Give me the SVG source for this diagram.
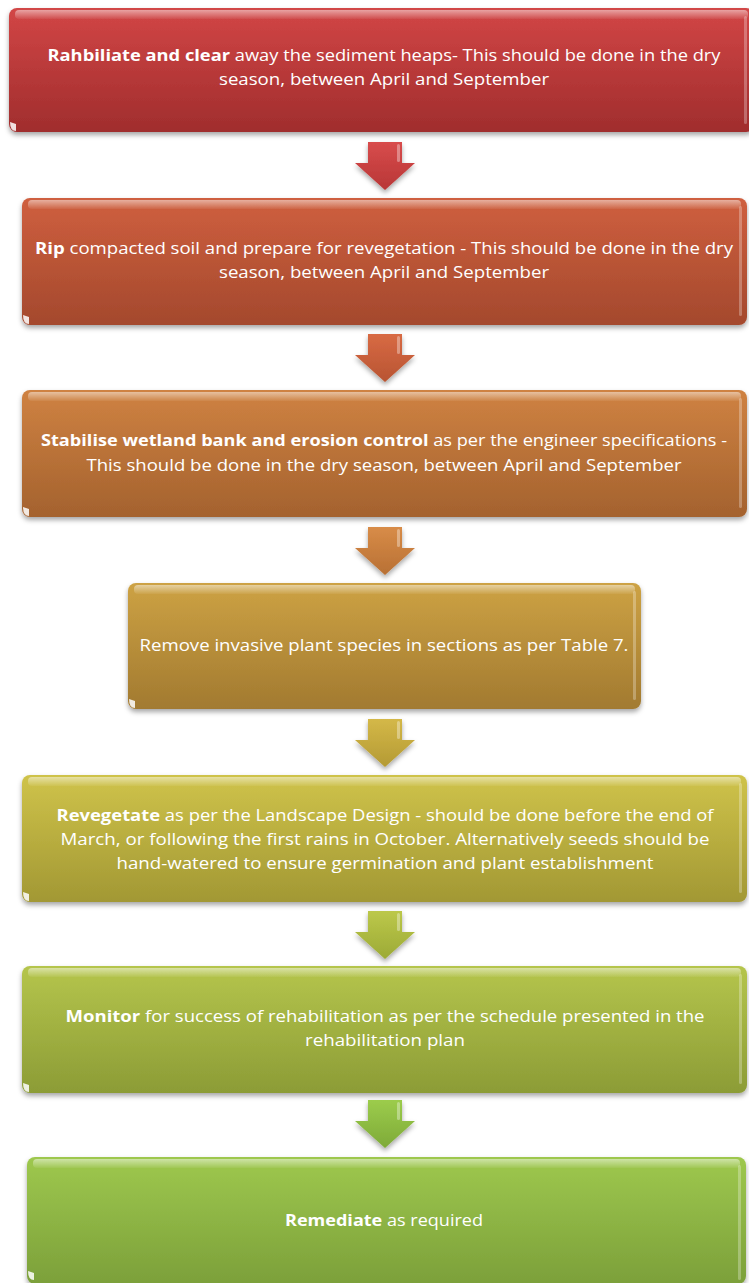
<svg xmlns="http://www.w3.org/2000/svg" width="749" height="1283" viewBox="0 0 749 1283">
<defs>
<filter id="sh" x="-5%" y="-10%" width="110%" height="130%">
<feDropShadow dx="0" dy="3" stdDeviation="2.5" flood-color="#000" flood-opacity="0.35"/>
</filter>
<linearGradient id="g1" x1="0" y1="0" x2="0" y2="1"><stop offset="0" stop-color="#D24646"/><stop offset="1" stop-color="#A02D2D"/></linearGradient>
<linearGradient id="g2" x1="0" y1="0" x2="0" y2="1"><stop offset="0" stop-color="#CF5F3F"/><stop offset="1" stop-color="#A4492D"/></linearGradient>
<linearGradient id="g3" x1="0" y1="0" x2="0" y2="1"><stop offset="0" stop-color="#CF8242"/><stop offset="1" stop-color="#A4622E"/></linearGradient>
<linearGradient id="g4" x1="0" y1="0" x2="0" y2="1"><stop offset="0" stop-color="#CDA244"/><stop offset="1" stop-color="#A27A30"/></linearGradient>
<linearGradient id="g5" x1="0" y1="0" x2="0" y2="1"><stop offset="0" stop-color="#CFC34A"/><stop offset="1" stop-color="#A29834"/></linearGradient>
<linearGradient id="g6" x1="0" y1="0" x2="0" y2="1"><stop offset="0" stop-color="#B5C54C"/><stop offset="1" stop-color="#8C9C36"/></linearGradient>
<linearGradient id="g7" x1="0" y1="0" x2="0" y2="1"><stop offset="0" stop-color="#9EC84E"/><stop offset="1" stop-color="#7CA03A"/></linearGradient>
<linearGradient id="a1" x1="0" y1="0" x2="0" y2="1"><stop offset="0" stop-color="#D84C4C"/><stop offset="1" stop-color="#B83636"/></linearGradient>
<linearGradient id="a2" x1="0" y1="0" x2="0" y2="1"><stop offset="0" stop-color="#D86A44"/><stop offset="1" stop-color="#B85432"/></linearGradient>
<linearGradient id="a3" x1="0" y1="0" x2="0" y2="1"><stop offset="0" stop-color="#D88C48"/><stop offset="1" stop-color="#B87034"/></linearGradient>
<linearGradient id="a4" x1="0" y1="0" x2="0" y2="1"><stop offset="0" stop-color="#D4B848"/><stop offset="1" stop-color="#B49A34"/></linearGradient>
<linearGradient id="a5" x1="0" y1="0" x2="0" y2="1"><stop offset="0" stop-color="#BCC84A"/><stop offset="1" stop-color="#9CAA36"/></linearGradient>
<linearGradient id="a6" x1="0" y1="0" x2="0" y2="1"><stop offset="0" stop-color="#9CCC4C"/><stop offset="1" stop-color="#7EAA38"/></linearGradient>
<linearGradient id="hlTop" x1="0" y1="0" x2="0" y2="1"><stop offset="0" stop-color="#fff" stop-opacity="0.5"/><stop offset="1" stop-color="#fff" stop-opacity="0.05"/></linearGradient>
<path id="arrow" d="M-17,0 H17 V21 H30 L0,48 L-30,21 H-17 Z"/>
</defs>
<style>
.box{filter:url(#sh);}
.hl{fill:url(#hlTop);}
.hr{fill:#fff;fill-opacity:0.28;}
.bl{fill:#fff;fill-opacity:0.85;}
text{font-family:"Open Sans","Noto Sans","Liberation Sans",sans-serif;font-size:16px;fill:#fff;text-anchor:middle;}
.b{font-weight:bold;}
.ahl{fill:#fff;fill-opacity:0.35;}
</style>

<g id="step1">
<rect class="box" x="9" y="8" width="745" height="124" rx="8" fill="url(#g1)"/>
<rect class="hl" x="15" y="10" width="733" height="9" rx="4"/>
<rect class="hr" x="744" y="16" width="3" height="108" rx="1.5"/>
<path class="bl" d="M10,122 Q10,131 16,131 L16,124 Z"/>
<text x="384" y="61" textLength="673" lengthAdjust="spacingAndGlyphs"><tspan class="b">Rahbiliate and clear</tspan> away the sediment heaps- This should be done in the dry</text>
<text x="384" y="85" textLength="330" lengthAdjust="spacingAndGlyphs">season, between April and September</text>
</g>

<g id="step2">
<rect class="box" x="22" y="198" width="725" height="127" rx="8" fill="url(#g2)"/>
<rect class="hl" x="28" y="200" width="713" height="9" rx="4"/>
<rect class="hr" x="739" y="206" width="3" height="110" rx="1.5"/>
<path class="bl" d="M23,315 Q23,324 29,324 L29,317 Z"/>
<text x="384" y="254" textLength="698" lengthAdjust="spacingAndGlyphs"><tspan class="b">Rip</tspan> compacted soil and prepare for revegetation - This should be done in the dry</text>
<text x="384" y="278" textLength="330" lengthAdjust="spacingAndGlyphs">season, between April and September</text>
</g>

<g id="step3">
<rect class="box" x="22" y="390" width="725" height="127" rx="8" fill="url(#g3)"/>
<rect class="hl" x="28" y="392" width="713" height="9" rx="4"/>
<rect class="hr" x="739" y="398" width="3" height="110" rx="1.5"/>
<path class="bl" d="M23,507 Q23,516 29,516 L29,509 Z"/>
<text x="384" y="446" textLength="686" lengthAdjust="spacingAndGlyphs"><tspan class="b">Stabilise wetland bank and erosion control</tspan> as per the engineer specifications -</text>
<text x="384" y="471" textLength="595" lengthAdjust="spacingAndGlyphs">This should be done in the dry season, between April and September</text>
</g>

<g id="step4">
<rect class="box" x="128" y="583" width="513" height="126" rx="8" fill="url(#g4)"/>
<rect class="hl" x="134" y="585" width="501" height="9" rx="4"/>
<rect class="hr" x="633" y="591" width="3" height="109" rx="1.5"/>
<path class="bl" d="M129,699 Q129,708 135,708 L135,701 Z"/>
<text x="384" y="651" textLength="489" lengthAdjust="spacingAndGlyphs">Remove invasive plant species in sections as per Table 7.</text>
</g>

<g id="step5">
<rect class="box" x="22" y="775" width="725" height="127" rx="8" fill="url(#g5)"/>
<rect class="hl" x="28" y="777" width="713" height="9" rx="4"/>
<rect class="hr" x="739" y="783" width="3" height="110" rx="1.5"/>
<path class="bl" d="M23,892 Q23,901 29,901 L29,894 Z"/>
<text x="385" y="821" textLength="657" lengthAdjust="spacingAndGlyphs"><tspan class="b">Revegetate</tspan> as per the Landscape Design - should be done before the end of</text>
<text x="385" y="845" textLength="649" lengthAdjust="spacingAndGlyphs">March, or following the first rains in October. Alternatively seeds should be</text>
<text x="385" y="869" textLength="537" lengthAdjust="spacingAndGlyphs">hand-watered to ensure germination and plant establishment</text>
</g>

<g id="step6">
<rect class="box" x="22" y="966" width="725" height="127" rx="8" fill="url(#g6)"/>
<rect class="hl" x="28" y="968" width="713" height="9" rx="4"/>
<rect class="hr" x="739" y="974" width="3" height="110" rx="1.5"/>
<path class="bl" d="M23,1083 Q23,1092 29,1092 L29,1085 Z"/>
<text x="385" y="1022" textLength="639" lengthAdjust="spacingAndGlyphs"><tspan class="b">Monitor</tspan> for success of rehabilitation as per the schedule presented in the</text>
<text x="385" y="1046" textLength="160" lengthAdjust="spacingAndGlyphs">rehabilitation plan</text>
</g>

<g id="step7">
<rect class="box" x="27" y="1157" width="719" height="127" rx="8" fill="url(#g7)"/>
<rect class="hl" x="33" y="1159" width="707" height="9" rx="4"/>
<rect class="hr" x="738" y="1165" width="3" height="115" rx="1.5"/>
<path class="bl" d="M28,1271 Q28,1280 34,1280 L34,1273 Z"/>
<text x="384" y="1226" textLength="198" lengthAdjust="spacingAndGlyphs"><tspan class="b">Remediate</tspan> as required</text>
</g>

<g id="connectors">
<g transform="translate(385,142)"><use href="#arrow" fill="url(#a1)" filter="url(#sh)"/><rect class="ahl" x="12" y="2" width="3" height="18" rx="1.5"/></g>
<g transform="translate(385,334)"><use href="#arrow" fill="url(#a2)" filter="url(#sh)"/><rect class="ahl" x="12" y="2" width="3" height="18" rx="1.5"/></g>
<g transform="translate(385,527)"><use href="#arrow" fill="url(#a3)" filter="url(#sh)"/><rect class="ahl" x="12" y="2" width="3" height="18" rx="1.5"/></g>
<g transform="translate(385,719)"><use href="#arrow" fill="url(#a4)" filter="url(#sh)"/><rect class="ahl" x="12" y="2" width="3" height="18" rx="1.5"/></g>
<g transform="translate(385,911)"><use href="#arrow" fill="url(#a5)" filter="url(#sh)"/><rect class="ahl" x="12" y="2" width="3" height="18" rx="1.5"/></g>
<g transform="translate(385,1100)"><use href="#arrow" fill="url(#a6)" filter="url(#sh)"/><rect class="ahl" x="12" y="2" width="3" height="18" rx="1.5"/></g>
</g>
</svg>
